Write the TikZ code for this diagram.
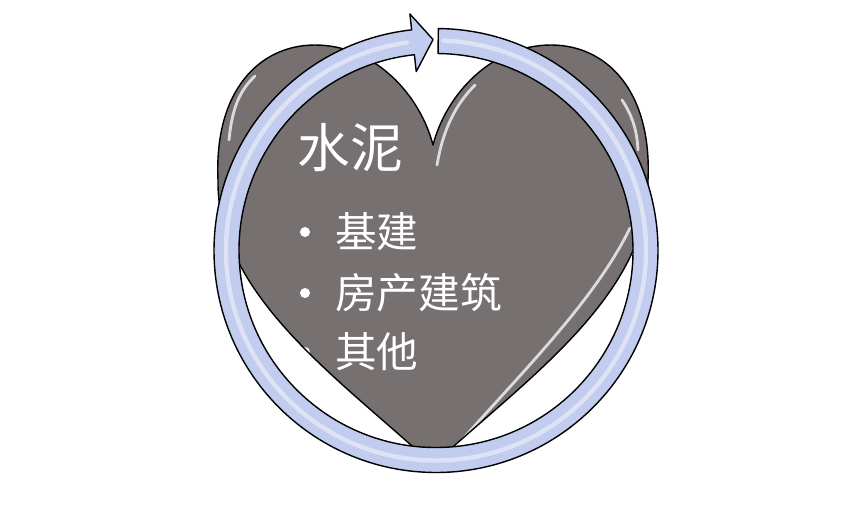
\documentclass[tikz,border=0pt]{standalone}
\usepackage{fontspec}
\newfontfamily\cjk{Noto Sans CJK SC}
\usepackage{tikz}
\usetikzlibrary{positioning}
\definecolor{heartgray}{RGB}{118,112,112}
\definecolor{ringblue}{RGB}{194,204,238}
\newcommand{\heartpath}{(433,-465) .. controls (345,-383) and (216,-296) .. (218,-180)
			.. controls (214,-90) and (260,-45) .. (315,-45)
			.. controls (375,-45) and (420,-95) .. (433,-145)
			.. controls (446,-95) and (491,-45) .. (551,-45)
			.. controls (606,-45) and (652,-90) .. (648,-180)
			.. controls (650,-296) and (521,-383) .. (433,-465) -- cycle}
\tikzset{
  heartfill/.style={fill=heartgray},
  heartline/.style={draw=black, line width=0.8pt},
  ringshape/.style={fill=ringblue, draw=black, line width=0.8pt, line join=round},
  shine/.style={white, opacity=0.75, line width=1.6pt, line cap=round},
  ringshine/.style={white, opacity=0.45, line width=2.5pt},
  title/.style={text=white, font=\cjk\fontsize{30}{36}\selectfont, inner sep=0pt},
  item/.style={text=white, font=\cjk\fontsize{23.7}{28}\selectfont, inner sep=0pt, anchor=west},
  dot/.style={circle, fill=white, inner sep=0pt, minimum size=0.2cm}
}

\begin{document}
\begin{tikzpicture}[line cap=round,line join=round,x=0.02cm,y=0.02cm]
		\useasboundingbox (0,0) rectangle (865,-505);
		% heart
		\fill [heartfill] \heartpath;
		\draw [shine] (229,-140) .. controls (232,-108) and (240,-90) .. (255,-76);
		\draw [shine] (437,-165) .. controls (443,-130) and (455,-105) .. (475,-85);
		\draw [shine] (622,-100) .. controls (632,-115) and (637,-130) .. (638,-150);
		\draw [shine] (630,-228) .. controls (595,-300) and (522,-372) .. (462,-440);
		% texts
		\node[title] (shuini) at (350,-148) {水泥};
		\node[item] (jijian) at (335,-232) {基建};
		\node[item] (fangchan) at (335,-293) {房产建筑};
		\node[item] (qita) at (335,-352) {其他};
		\node[dot] (d1) at (305,-232) {};
		\node[dot] (d2) at (305,-293) {};
		\node[dot] (d3) at (305,-352) {};
		\draw [heartline] \heartpath;
		% circular arrow
		\begin{scope}[shift={(436,-250.5)}]
			\draw [ringshape] (89.4:222) arc[start angle=89.4, end angle=-263.7, radius=222]
				-- (96.3:238) -- (90.8:211) -- (96.3:180) -- (-263.7:197)
				arc[start angle=-263.7, end angle=89.4, radius=197] -- cycle;
			\draw [ringshine] (88:210) arc[start angle=88, end angle=-262, radius=210];
		\end{scope}
\end{tikzpicture}
\end{document}
